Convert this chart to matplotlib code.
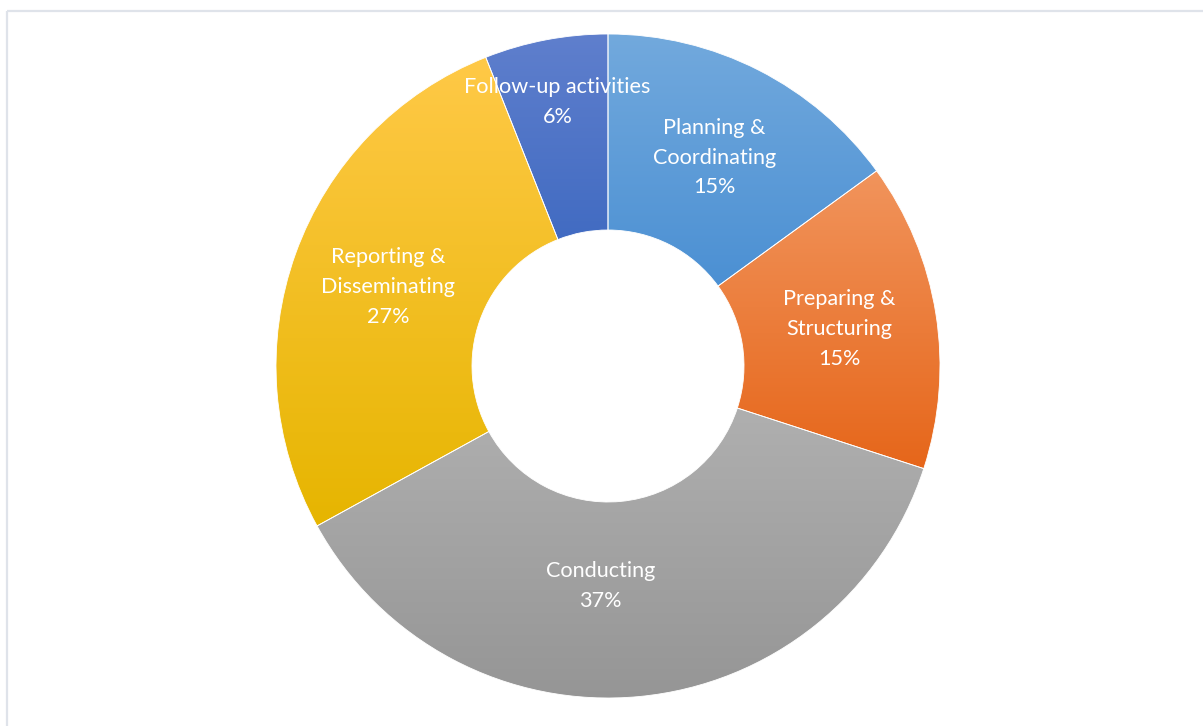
import numpy as np
import matplotlib.pyplot as plt
from matplotlib.patches import Wedge
from matplotlib.colors import to_rgb

labels = ['Planning &\nCoordinating', 'Preparing &\nStructuring', 'Conducting',
          'Reporting &\nDisseminating', 'Follow-up activities']
values = [15, 15, 37, 27, 6]
# gradient colours per slice: (top, bottom)
top_colors = ['#72a9dd', '#f1945c', '#b3b3b3', '#ffc947', '#5f7fcd']
bottom_colors = ['#3f88d0', '#e6661a', '#959595', '#e6b500', '#2f5fbb']
# label placement: radius as fraction of ring middle, angle nudge in degrees
label_radius = [1.0, 1.0, 0.94, 1.0, 1.15]
label_nudge = [0, 0, -7.4, 0, 0]

W, H = 1203, 726
cx, cy = 608, H - 366
R_out, R_in = 332, 136

fig = plt.figure(figsize=(W / 100, H / 100), dpi=100)
ax = fig.add_axes([0, 0, 1, 1])
ax.set_xlim(0, W)
ax.set_ylim(0, H)
ax.axis('off')

# chart area border (top and left edges visible)
ax.plot([7, W], [H - 11, H - 11], color='#dfe3ea', lw=1.6, solid_capstyle='butt')
ax.plot([7, 7], [H - 11, 0], color='#dfe3ea', lw=1.6, solid_capstyle='butt')

total = sum(values)
start = 90.0
r_mid = (R_out + R_in) / 2
for i, v in enumerate(values):
    span = v / total * 360
    t2 = start
    t1 = start - span
    start = t1

    w = Wedge((cx, cy), R_out, t1, t2, width=R_out - R_in,
              facecolor='none', edgecolor='white', lw=0.6, zorder=3)
    ax.add_patch(w)

    # vertical gradient clipped to the wedge
    verts = w.get_path().vertices
    x0, y0 = verts.min(axis=0)
    x1, y1 = verts.max(axis=0)
    c_top = np.array(to_rgb(top_colors[i]))
    c_bot = np.array(to_rgb(bottom_colors[i]))
    t = np.linspace(0, 1, 256)[:, None]
    grad = (c_bot * (1 - t) + c_top * t)[:, None, :]
    im = ax.imshow(grad, extent=(x0, x1, y0, y1), origin='lower',
                   aspect='auto', interpolation='bilinear', zorder=2)
    im.set_clip_path(w)

    mid = np.radians((t1 + t2) / 2 + label_nudge[i])
    rr = r_mid * label_radius[i]
    ax.text(cx + rr * np.cos(mid), cy + rr * np.sin(mid),
            f'{labels[i]}\n{v}%', ha='center', va='center', color='white',
            fontsize=15.6, family='Lato', linespacing=1.62, zorder=4)

ax.set_xlim(0, W)
ax.set_ylim(0, H)
fig.savefig('out.png', dpi=100)
